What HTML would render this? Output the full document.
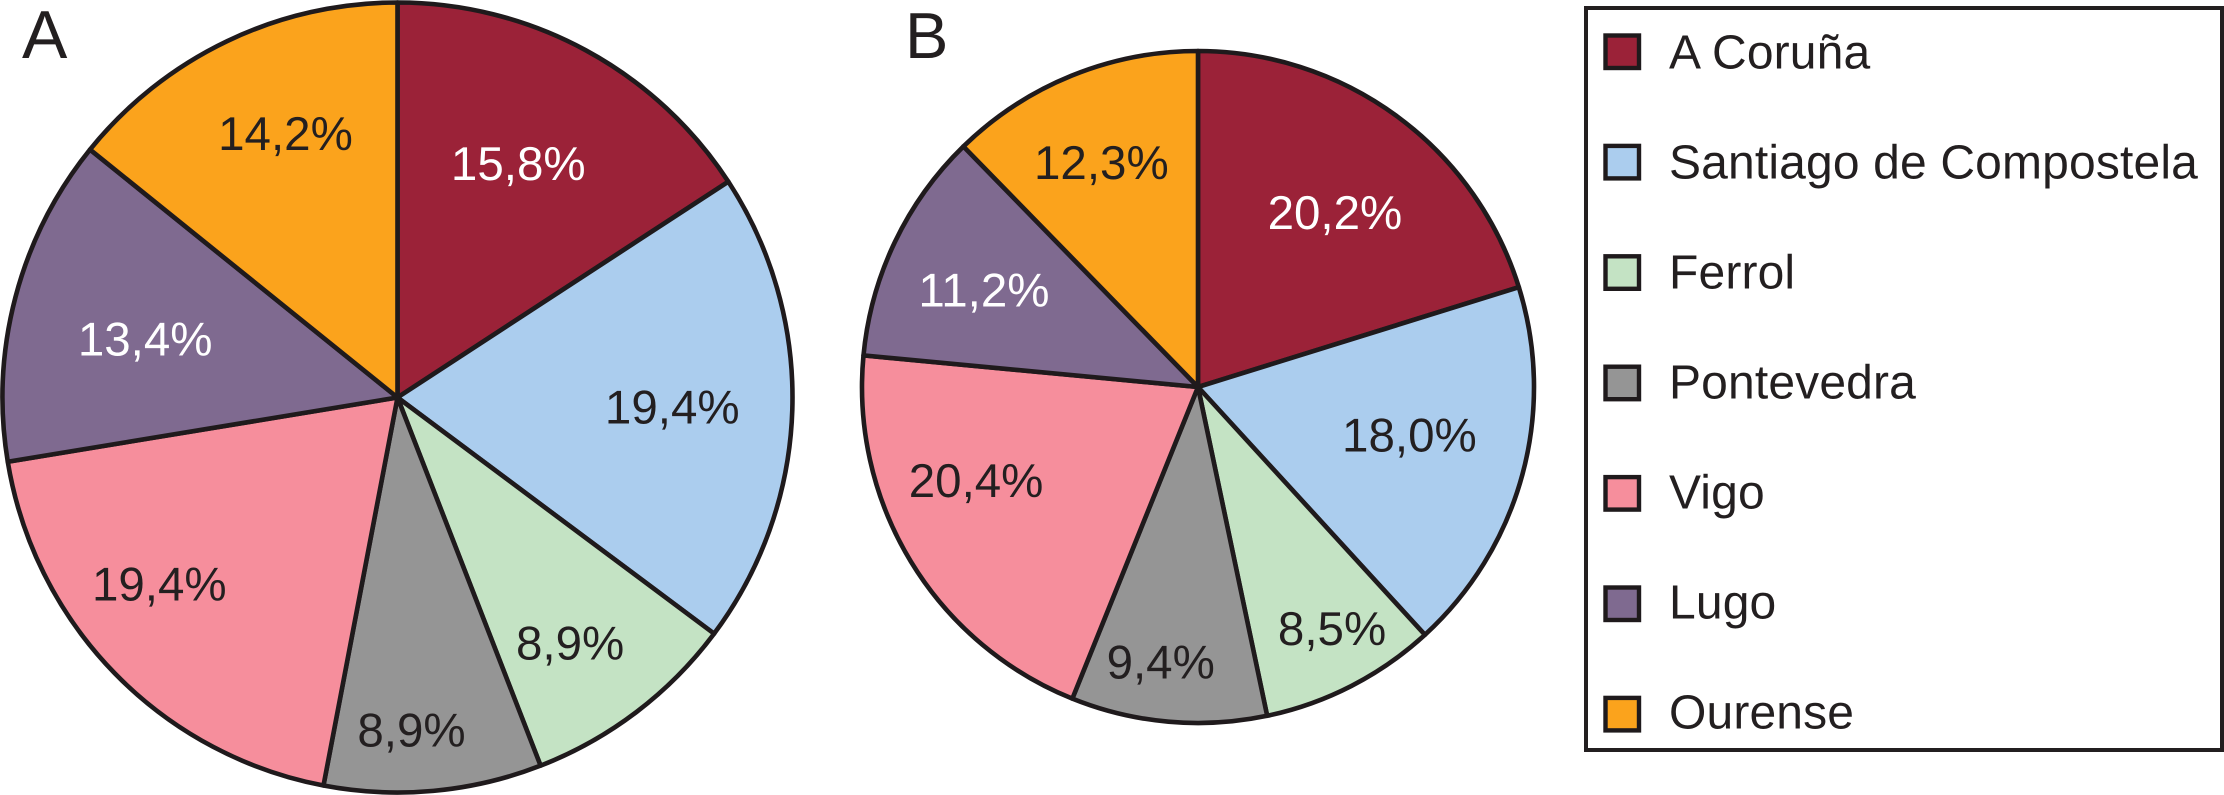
<!DOCTYPE html>
<html lang="es">
<head>
<meta charset="utf-8">
<title>A and B pie charts</title>
<style>
  html, body { margin: 0; padding: 0; background: #ffffff; }
  body { width: 2224px; height: 795px; overflow: hidden; }
  svg { display: block; }
  text { font-family: "Liberation Sans", Arial, sans-serif; fill: #231f20; text-rendering: geometricPrecision; }
</style>
</head>
<body>
<svg id="chart" xmlns="http://www.w3.org/2000/svg" width="2224" height="795" viewBox="0 0 2224 795">
  <text x="22" y="58" font-size="68">A</text>
  <text x="905" y="58" font-size="65">B</text>
  <g id="pie-a"></g>
  <g id="pie-b"></g>
  <rect x="1586" y="8" width="636" height="742" fill="#ffffff" stroke="#231f20" stroke-width="4"></rect>
  <g id="legend"></g>
</svg>
<script>
const categories = ['A Coruña', 'Santiago de Compostela', 'Ferrol', 'Pontevedra', 'Vigo', 'Lugo', 'Ourense'];
const valuesA = [15.8, 19.4, 8.9, 8.9, 19.4, 13.4, 14.2];
const valuesB = [20.2, 18.0, 8.5, 9.4, 20.4, 11.2, 12.3];

const sliceColors = ['#9b2238', '#abcdee', '#c4e3c4', '#959595', '#f68e9c', '#7f6a90', '#fba31c'];
const labelColors = ['#ffffff', '#231f20', '#231f20', '#231f20', '#231f20', '#ffffff', '#231f20'];
const SVG_NS = 'http://www.w3.org/2000/svg';
const STROKE = '#1f1a1c';

function polar(cx, cy, r, deg) {
  const a = deg * Math.PI / 180;
  return [cx + r * Math.sin(a), cy - r * Math.cos(a)];
}

function formatPct(v) {
  return v.toFixed(1).replace('.', ',') + '%';
}

function drawPie(groupId, values, cx, cy, r, labelFrac, labelTurn, prefix) {
  const group = document.getElementById(groupId);
  const total = values.reduce(function (s, v) { return s + v; }, 0);
  let start = 0;
  values.forEach(function (v, i) {
    const sweep = v / total * 360;
    const end = start + sweep;
    const p0 = polar(cx, cy, r, start);
    const p1 = polar(cx, cy, r, end);
    const large = sweep > 180 ? 1 : 0;
    const path = document.createElementNS(SVG_NS, 'path');
    path.setAttribute('d', 'M' + cx + ' ' + cy + ' L' + p0[0] + ' ' + p0[1] + ' A' + r + ' ' + r + ' 0 ' + large + ' 1 ' + p1[0] + ' ' + p1[1] + ' Z');
    path.setAttribute('fill', sliceColors[i]);
    path.setAttribute('stroke', STROKE);
    path.setAttribute('stroke-width', '4.6');
    path.setAttribute('stroke-linejoin', 'round');
    
    
    group.appendChild(path);
    start = end;
  });
  start = 0;
  values.forEach(function (v, i) {
    const sweep = v / total * 360;
    const mid = start + sweep / 2 + labelTurn[i];
    const pos = polar(cx, cy, r * labelFrac[i], mid);
    const label = document.createElementNS(SVG_NS, 'text');
    label.setAttribute('x', pos[0]);
    label.setAttribute('y', pos[1] + 17);
    label.setAttribute('text-anchor', 'middle');
    label.setAttribute('font-size', '47.5');
    label.style.fill = labelColors[i];
    label.textContent = formatPct(v);
    
    
    group.appendChild(label);
    start += sweep;
  });
}

drawPie('pie-a', valuesA, 397.5, 397.5, 395,
  [0.668, 0.696, 0.759, 0.841, 0.765, 0.656, 0.727],
  [-1.2, 0.1, 2.1, 2.8, 6.3, -1.6, 2.6], 'pie-a');
drawPie('pie-b', valuesB, 1198, 387, 336,
  [0.661, 0.645, 0.821, 0.824, 0.716, 0.700, 0.729],
  [1.7, -2.4, -1.9, 2.7, 8.6, -1.1, -1.1], 'pie-b');

const legend = document.getElementById('legend');
categories.forEach(function (name, i) {
  const slug = name.toLowerCase().replace(/ñ/g, 'n').replace(/\s+/g, '-');
  const swatch = document.createElementNS(SVG_NS, 'rect');
  swatch.setAttribute('x', 1605.5);
  swatch.setAttribute('y', 35.5 + i * 110.4);
  swatch.setAttribute('width', 33.5);
  swatch.setAttribute('height', 32.5);
  swatch.setAttribute('fill', sliceColors[i]);
  swatch.setAttribute('stroke', STROKE);
  swatch.setAttribute('stroke-width', '4.4');
  
  
  legend.appendChild(swatch);
  const label = document.createElementNS(SVG_NS, 'text');
  label.setAttribute('x', 1669);
  label.setAttribute('y', 68.5 + i * 110);
  label.setAttribute('font-size', '48');
  label.setAttribute('letter-spacing', '0.15');
  label.textContent = name;
  
  
  legend.appendChild(label);
});
</script>
</body>
</html>
